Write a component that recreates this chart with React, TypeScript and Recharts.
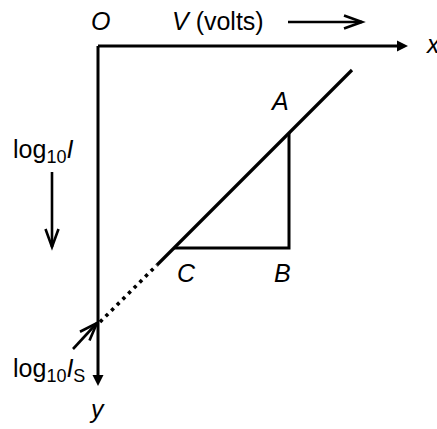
import { ComposedChart, Line, Scatter, XAxis, YAxis } from 'recharts';

const FONT = '"Liberation Sans", Arial, sans-serif';
const INK = '#000';

// diagram units: origin at O, V to the right, log10 I downward (1 unit = 10px)
const X_DOMAIN = [-9.8, 33.9];
const Y_DOMAIN = [-4.6, 38.3];

const xAxisLine = [{ x: 0, y: 0 }, { x: 30.2, y: 0 }];
const yAxisLine = [{ x: 0, y: 0 }, { x: 0, y: 33.2 }];
const fitSolid = [{ x: 5.9, y: 21.9 }, { x: 25.4, y: 2.4 }];
const fitDotted = [{ x: 0.2, y: 27.6 }, { x: 5.9, y: 21.9 }];
const triangleABC = [{ x: 19.1, y: 8.7 }, { x: 19.1, y: 20.2 }, { x: 7.6, y: 20.2 }];
const vArrow = [{ x: 19.0, y: -2.4 }, { x: 26.4, y: -2.4 }];
const logArrow = [{ x: -4.6, y: 12.6 }, { x: -4.6, y: 20.1 }];
const isArrow = [{ x: -2.5, y: 30.3 }, { x: -0.1, y: 27.7 }];

const solidHeads = [
  { x: 31.0, y: 0, angle: 0 },
  { x: 0, y: 34.0, angle: 90 },
];
const openHeads = [
  { x: 26.4, y: -2.4, angle: 0 },
  { x: -4.6, y: 20.1, angle: 90 },
  { x: -0.1, y: 27.7, angle: -47 },
];

const labels = [
  { x: -0.7, y: -1.6, text: 'O' },
  { x: 7.4, y: -1.6, text: 'V (volts)' },
  { x: 32.9, y: 0.7, text: 'x' },
  { x: 17.4, y: 6.4, text: 'A' },
  { x: 7.9, y: 23.6, text: 'C' },
  { x: 17.6, y: 23.6, text: 'B' },
  { x: -8.5, y: 11.2, text: 'log10I' },
  { x: -8.5, y: 33.1, text: 'log10IS' },
  { x: -0.7, y: 37.2, text: 'y' },
];

function labelContent(text: string) {
  if (text === 'V (volts)') {
    return [
      <tspan key="v" fontStyle="italic">V</tspan>,
      <tspan key="u"> (volts)</tspan>,
    ];
  }
  if (text.startsWith('log10')) {
    const parts = [
      <tspan key="l">log</tspan>,
      <tspan key="s" fontSize="0.72em" dy={5}>10</tspan>,
      <tspan key="i" fontStyle="italic" dy={-5}>I</tspan>,
    ];
    if (text.endsWith('S')) {
      parts.push(<tspan key="S" fontSize="0.72em" dy={5}>S</tspan>);
    }
    return parts;
  }
  return <tspan fontStyle="italic">{text}</tspan>;
}

function TextMark(props: any) {
  const { cx, cy, payload } = props;
  return (
    <text x={cx} y={cy} fontFamily={FONT} fontSize={25} fill={INK}>
      {labelContent(payload.text)}
    </text>
  );
}

function SolidHead(props: any) {
  const { cx, cy, payload } = props;
  return (
    <polygon
      points="0,0 -11,-5.5 -11,5.5"
      fill={INK}
      transform={`translate(${cx},${cy}) rotate(${payload.angle})`}
    />
  );
}

function OpenHead(props: any) {
  const { cx, cy, payload } = props;
  return (
    <polyline
      points="-18,-6.5 0,0 -18,6.5"
      fill="none"
      stroke={INK}
      strokeWidth={2.6}
      strokeLinejoin="miter"
      transform={`translate(${cx},${cy}) rotate(${payload.angle})`}
    />
  );
}

const seg = { type: 'linear' as const, dataKey: 'y', stroke: INK, dot: false, activeDot: false, isAnimationActive: false };

export default function App() {
  return (
    <div style={{ position: 'absolute', left: 0, top: 0, background: '#fff' }}>
      <ComposedChart width={437} height={429} margin={{ top: 0, right: 0, bottom: 0, left: 0 }}>
        <XAxis type="number" dataKey="x" domain={X_DOMAIN} hide allowDataOverflow />
        <YAxis type="number" dataKey="y" domain={Y_DOMAIN} reversed hide allowDataOverflow />

        <Line {...seg} data={xAxisLine} strokeWidth={3} />
        <Line {...seg} data={yAxisLine} strokeWidth={3} />
        <Line {...seg} data={fitDotted} strokeWidth={3.6} strokeDasharray="3.4 4.6" />
        <Line {...seg} data={fitSolid} strokeWidth={3.2} />
        <Line {...seg} data={triangleABC} strokeWidth={3} />
        <Line {...seg} data={vArrow} strokeWidth={2.6} />
        <Line {...seg} data={logArrow} strokeWidth={2.6} />
        <Line {...seg} data={isArrow} strokeWidth={2.6} />

        <Scatter data={solidHeads} dataKey="y" shape={SolidHead} isAnimationActive={false} />
        <Scatter data={openHeads} dataKey="y" shape={OpenHead} isAnimationActive={false} />
        <Scatter data={labels} dataKey="y" shape={TextMark} isAnimationActive={false} />
      </ComposedChart>
    </div>
  );
}
